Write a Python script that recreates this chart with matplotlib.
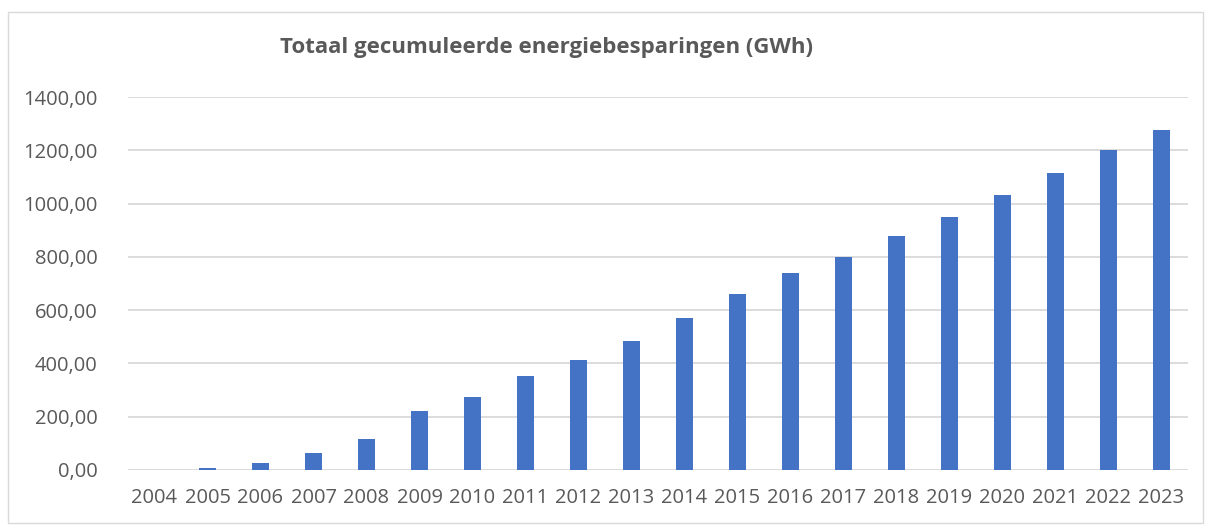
import matplotlib
matplotlib.use("Agg")
from matplotlib import pyplot as plt
from matplotlib.patches import Rectangle
from matplotlib.ticker import FuncFormatter

# jaren en gecumuleerde besparingen (GWh)
jaren = [str(j) for j in range(2004, 2024)]
besparing = [0, 9, 28, 62, 115, 221, 275, 354, 411, 484,
             569, 661, 738, 801, 879, 948, 1034, 1115, 1201, 1276]
y_ticks = [0, 200, 400, 600, 800, 1000, 1200, 1400]

W, H = 1205, 525
tekst_kleur = '#595959'
raster_kleur = '#d9d9d9'

plt.rcParams['font.family'] = ['Open Sans', 'DejaVu Sans']

fig = plt.figure(figsize=(W / 100, H / 100), dpi=100)

# kader rond de grafiek
fig.patches.append(Rectangle((8 / W, 2 / H), 1195 / W, 511 / H, transform=fig.transFigure,
                             fill=False, edgecolor=raster_kleur, linewidth=1))

ax = fig.add_axes([128 / W, 55 / H, 1060 / W, 373 / H])
x = range(len(jaren))
ax.bar(x, besparing, width=0.31, color='#4472C4', zorder=3)

ax.set_xlim(-0.5, len(jaren) - 0.5)
ax.set_ylim(0, 1400)
ax.set_yticks(y_ticks)
ax.yaxis.set_major_formatter(FuncFormatter(lambda v, p: f'{v:.2f}'.replace('.', ',')))
ax.set_xticks(list(x))
ax.set_xticklabels(jaren)
ax.grid(axis='y', color=raster_kleur, linewidth=1.3, zorder=0)
for s in ax.spines.values():
    s.set_visible(False)
ax.tick_params(axis='both', length=0, labelsize=14.5, colors=tekst_kleur)
ax.tick_params(axis='y', pad=22)
ax.tick_params(axis='x', pad=13)

fig.text(547 / W, 1 - 47 / H, 'Totaal gecumuleerde energiebesparingen (GWh)',
         ha='center', va='center', fontsize=16, fontweight='bold', color=tekst_kleur)

fig.savefig('out.png', dpi=100)
